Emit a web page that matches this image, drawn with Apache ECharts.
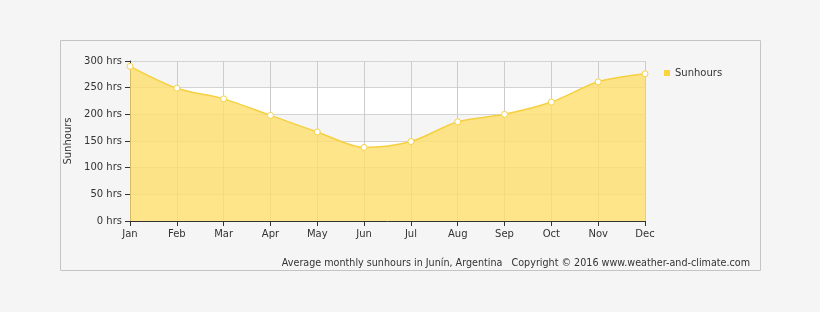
<!DOCTYPE html>
<html><head><meta charset="utf-8">
<script src="https://cdn.jsdelivr.net/npm/echarts@6/dist/echarts.min.js"></script>
<style>html,body{margin:0;padding:0;background:#f5f5f5;}#c{width:820px;height:312px;}</style>
</head><body><div id="c"></div>
<script>
var months = ['Jan','Feb','Mar','Apr','May','Jun','Jul','Aug','Sep','Oct','Nov','Dec'];
var sunhours = [290, 249, 229, 198, 167, 138, 149, 186, 200, 223, 261, 276];
var yTicks = [0, 50, 100, 150, 200, 250, 300];
var seriesName = 'Sunhours';
var caption = 'Average monthly sunhours in Junín, Argentina   Copyright © 2016 www.weather-and-climate.com';

var chart = echarts.init(document.getElementById('c'), null, {renderer:'canvas'});
var font = 'DejaVu Sans';
chart.setOption({
  backgroundColor: '#f5f5f5',
  animation: false,
  textStyle: {fontFamily: font},
  grid: {left: 130, right: 175, top: 61, bottom: 91},
  legend: {
    data: [{name: seriesName, icon: 'rect', itemStyle: {color: '#fcd440', borderWidth: 0}}],
    left: 659, top: 63, itemWidth: 6, itemHeight: 6, itemGap: 6,
    textStyle: {fontFamily: font, fontSize: 10, color: '#333'}
  },
  xAxis: {
    type: 'category', data: months, boundaryGap: false,
    axisLine: {lineStyle: {color: '#333', width: 1}},
    axisTick: {show: true, length: 5, lineStyle: {color: '#333'}},
    axisLabel: {fontFamily: font, fontSize: 10, color: '#333', margin: 8},
    splitLine: {show: true, lineStyle: {color: '#cccccc'}}
  },
  yAxis: {
    type: 'value', min: yTicks[0], max: yTicks[yTicks.length-1], interval: 50,
    name: seriesName, nameLocation: 'middle', nameGap: 53, nameRotate: 90,
    nameTextStyle: {fontFamily: font, fontSize: 10, color: '#333'},
    axisLine: {show: true, lineStyle: {color: '#333'}},
    axisTick: {show: true, length: 5, lineStyle: {color: '#333'}},
    axisLabel: {fontFamily: font, fontSize: 10, color: '#333', margin: 8, formatter: function(v){return v + ' hrs';}},
    splitLine: {show: true, lineStyle: {color: '#d4d4d4'}},
    splitArea: {show: true, areaStyle: {color: ['#ffffff', '#f5f5f5']}}
  },
  series: [{
    name: seriesName, type: 'line', data: sunhours, smooth: 0.3,
    symbol: 'circle', symbolSize: 6,
    itemStyle: {color: '#ffffff', borderColor: '#f5d248', borderWidth: 1},
    lineStyle: {color: '#f5d040', width: 1.5},
    areaStyle: {color: 'rgb(255,223,109)', opacity: 0.8},
    z: 3
  }],
  graphic: [
    {type: 'rect', shape: {x: 60.5, y: 40.5, width: 700, height: 230}, style: {fill: 'none', stroke: '#c4c4c4', lineWidth: 1}, z: -1},
    {type: 'text', right: 70, top: 258, style: {text: caption, fontFamily: font, fontSize: 9.6, fill: '#333'}}
  ]
});
</script></body></html>
